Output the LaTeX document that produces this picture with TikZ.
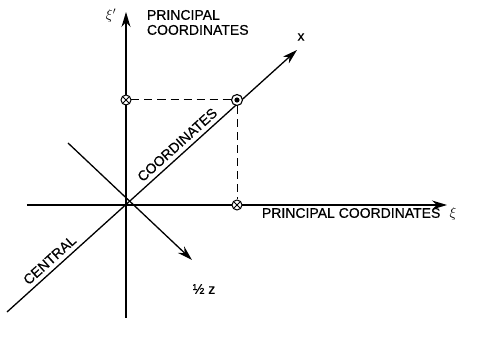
\documentclass[tikz,border=0pt]{standalone}
\usepackage{fontspec}
\setmainfont{Liberation Sans}
\newfontfamily\labfont[FakeBold=0.5]{Liberation Sans}
\usetikzlibrary{arrows.meta,positioning,calc}

\begin{document}
\begin{tikzpicture}[x=1pt,y=1pt,line width=1.3pt,
 every node/.style={font=\labfont\fontsize{14}{15}\selectfont},
 ax/.style={-{Stealth[length=15pt,width=9pt]}},
 guide/.style={dash pattern=on 8pt off 5pt,line width=1pt},
 cx/.style={draw,circle,fill=white,inner sep=0pt,minimum size=10pt,line width=1pt,path picture={\draw[line width=.9pt] (path picture bounding box.north west)--(path picture bounding box.south east) (path picture bounding box.south west)--(path picture bounding box.north east);}},
 cd/.style={draw,circle,fill=white,inner sep=0pt,minimum size=11pt,line width=1.1pt}]
\useasboundingbox (-126,-140) rectangle (364,205);
% axes
\coordinate (o) at (0,0);
\coordinate (vb) at (0,-113);\coordinate (vt) at (0,193);
\coordinate (hl) at (-99,0);\coordinate (hr) at (321,0);
\coordinate (db) at (-119,-107);\coordinate (dt) at (171,155);
\coordinate (zb) at (-58,62);\coordinate (zt) at (66,-55);
\draw[ax] (vb)--(vt);
\draw[ax] (hl)--(hr);
\draw[ax] (db)--node[pos=.17,sloped,above=1pt]{CENTRAL} node[pos=.61,sloped,above=1pt]{COORDINATES} (dt);
\draw[ax] (zb)--(zt);
% projections
\node[cd] (p) at (111,105) {};
\fill (p.center) circle (2.6pt);
\node[cx] (py) at (0,105) {};
\node[cx] (px) at (111,0) {};
\draw[guide] (py)--(p);\draw[guide] (p)--(px);
% labels
\node[anchor=east] (xiy) at (-6,189) {$\xi'$};
\node[anchor=north west,align=left] (pcy) at (17,199) {PRINCIPAL\\COORDINATES};
\node (xl) at (175,168) {x};
\node[anchor=west] (pcx) at (132,-8) {PRINCIPAL COORDINATES};
\node (xix) at (327,-9) {$\xi$};
\node (zl) at (78,-84) {½ z};
\end{tikzpicture}
\end{document}
